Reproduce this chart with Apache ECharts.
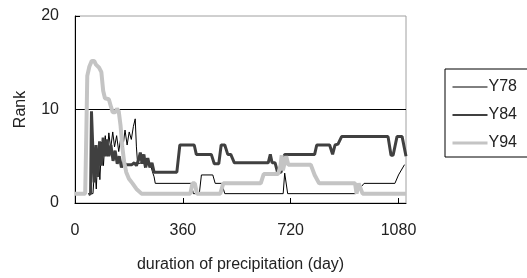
<!DOCTYPE html>
<html>
<head>
<meta charset="utf-8">
<script src="https://cdn.jsdelivr.net/npm/echarts@6/dist/echarts.min.js"></script>
<style>
html,body{margin:0;padding:0;background:#fff;}
#chart{width:527px;height:278px;}
</style>
</head>
<body>
<div id="chart"></div>
<script>
// Series names
var seriesNames = ['Y78', 'Y84', 'Y94'];
// Axis ticks
var xTicks = [0, 360, 720, 1080];
var yTicks = [0, 10, 20];
// [duration (day), rank]
var y78 = [[45,1],[60,1],[66,4],[71,1.5],[77,5.5],[83,2.5],[89,6.5],[95,4],[101,7.2],[107,5],[113,7.5],[119,5.8],[126,7.6],[132,6],[139,7.2],[146,5.5],[153,7],[160,6],[167,7.8],[174,6.2],[181,7.6],[188,6.8],[195,8.2],[201,9],[205,6],[209,4.2],[222,4.3],[227,5.2],[232,3.8],[238,4.8],[244,4.2],[252,4.1],[258,3.4],[264,2.8],[268,2.1],[388,2.1],[395,1],[415,1],[422,3],[460,3],[468,2.1],[490,2.1],[500,1],[695,1],[700,3.2],[705,3.2],[710,1],[937,1],[965,2.1],[1068,2.1],[1080,3],[1100,4.1]];
var y84 = [[45,0.9],[52,1],[55,9.8],[59,6.3],[64,2.2],[70,6.2],[76,2.8],[82,6.6],[88,4],[94,7],[100,5],[106,6.8],[113,5],[120,6.2],[127,4.5],[134,5.6],[141,4.2],[148,5],[155,3.8],[162,4.4],[170,4.1],[190,4.1],[198,4.3],[205,4],[212,4.6],[218,5.4],[224,4.2],[230,5.2],[236,3.8],[243,4.8],[250,3.8],[257,4.3],[264,3.3],[340,3.3],[350,6.2],[398,6.2],[405,5.2],[455,5.2],[465,4.2],[480,4.2],[488,6.2],[500,6.2],[510,5.2],[520,5.2],[532,4.3],[645,4.3],[652,5.2],[658,4.3],[668,4.3],[676,3.3],[688,3.3],[692,3.5],[700,5.2],[800,5.2],[807,6.2],[850,6.2],[860,5.2],[868,6.2],[878,6.3],[890,7.1],[1045,7.1],[1055,5.1],[1062,5.1],[1075,7.1],[1092,7.1],[1105,5]];
var y94 = [[0,1],[34,1],[37,6],[41,13.6],[48,14.6],[56,15.2],[64,15.2],[70,14.8],[80,14.5],[88,14],[94,12],[100,11.2],[113,11.1],[120,10.3],[126,9.7],[134,9.7],[140,10.1],[146,9.8],[152,8.3],[158,6],[164,4.4],[171,3.3],[180,2.6],[192,2.1],[205,1.5],[222,1],[385,1],[392,2.1],[400,2.1],[407,1],[485,1],[495,2.1],[620,2.1],[630,3.1],[678,3.1],[686,4],[690,5.1],[694,3.5],[700,3.5],[705,5],[712,4.1],[787,4.1],[800,3],[815,2.1],[935,2.1],[940,1],[947,2.1],[953,2.1],[960,1],[1105,1]];

var seriesData = [y78, y84, y94];
var lineColors = ['#000000', '#404040', '#c4c4c4'];
var lineWidths = [1, 3, 4];
var legendWidths = [1, 2, 3];

var FONT = 'Liberation Sans';
var chart = echarts.init(document.getElementById('chart'), null, {renderer: 'canvas'});
var option = {
  animation: false,
  backgroundColor: '#fff',
  textStyle: {fontFamily: FONT},
  grid: {left: 75, right: 121, top: 16, bottom: 73, show: true, borderColor: '#a0a0a0', borderWidth: 1, backgroundColor: 'transparent'},
  legend: {
    orient: 'vertical', left: 445, top: 69,
    data: seriesNames.map(function (n, i) {
      return {name: n, lineStyle: {width: legendWidths[i], color: lineColors[i]}};
    }),
    itemWidth: 35, itemHeight: 14, itemGap: 12,
    padding: [10, 11, 6, 6],
    borderColor: '#000', borderWidth: 1, backgroundColor: '#fff',
    itemStyle: {opacity: 0},
    textStyle: {fontFamily: FONT, fontSize: 16, color: '#222', padding: [0, 0, 0, -4]}
  },
  xAxis: {
    type: 'value', min: 0, max: 1105, interval: 360,
    name: 'duration of precipitation (day)', nameLocation: 'middle', nameGap: 54,
    nameTextStyle: {fontFamily: FONT, fontSize: 16, color: '#222'},
    axisLine: {show: true, lineStyle: {color: '#000', width: 1}},
    axisTick: {show: true, inside: true, length: 5, lineStyle: {color: '#000'}, customValues: xTicks},
    axisLabel: {fontFamily: FONT, fontSize: 16, color: '#222', margin: 20, customValues: xTicks,
      formatter: function (v) { return String(v); }},
    splitLine: {show: false}
  },
  yAxis: {
    type: 'value', min: 0, max: 20, interval: 10,
    name: 'Rank', nameLocation: 'middle', nameGap: 46, nameRotate: 90,
    nameTextStyle: {fontFamily: FONT, fontSize: 16, color: '#222'},
    axisLine: {show: true, lineStyle: {color: '#000', width: 1}},
    axisTick: {show: true, inside: true, length: 5, lineStyle: {color: '#000'}},
    axisLabel: {fontFamily: FONT, fontSize: 16, color: '#222', margin: 16, customValues: yTicks,
      formatter: function (v) { return String(v); }},
    splitLine: {show: true, showMinLine: false, showMaxLine: false, lineStyle: {color: '#000', width: 1}}
  },
  series: seriesNames.map(function (name, i) {
    return {
      name: name, type: 'line', data: seriesData[i],
      symbol: 'none', showSymbol: false, smooth: false,
      lineStyle: {color: lineColors[i], width: lineWidths[i]},
      itemStyle: {color: lineColors[i]},
      z: 2 + i
    };
  })
};
chart.setOption(option);
</script>
</body>
</html>
